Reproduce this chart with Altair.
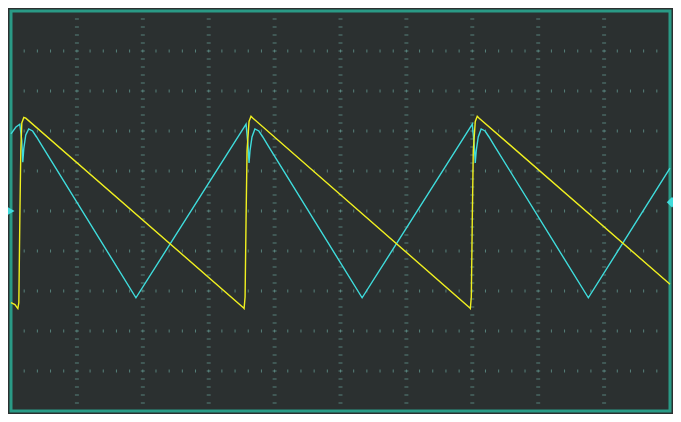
import altair as alt
import pandas as pd
import numpy as np

# Screen units: time and voltage in divisions (10 x 10 graticule, centre = 0)
ch1_t = [0.000, 0.075, 0.134, 0.164, 0.179, 0.194, 0.224, 0.269, 0.328, 0.388, 0.478,
         1.896,
         3.567, 3.597, 3.612, 3.627, 3.657, 3.701, 3.761, 3.821, 3.910,
         5.328,
         7.000, 7.030, 7.045, 7.060, 7.090, 7.134, 7.194, 7.254, 7.343,
         8.761, 10.000]
ch1_v = [1.93, 2.10, 2.17, 1.76, 1.22, 1.56, 1.90, 2.05, 2.00, 1.85, 1.61,
         -2.17,
         2.17, 1.63, 1.20, 1.51, 1.85, 2.05, 2.00, 1.85, 1.61,
         -2.17,
         2.17, 1.63, 1.20, 1.51, 1.85, 2.05, 2.00, 1.85, 1.61,
         -2.17, 1.07]

ch2_t = [0.000, 0.060, 0.090, 0.104, 0.119, 0.134, 0.149, 0.164, 0.194, 0.224,
         3.522, 3.537, 3.552, 3.567, 3.582, 3.612, 3.642, 3.672,
         6.955, 6.970, 6.985, 7.000, 7.015, 7.045, 7.075, 7.104,
         10.000]
ch2_v = [-2.29, -2.34, -2.41, -2.44, -2.29, -0.20, 1.51, 2.20, 2.34, 2.32,
         -2.41, -2.44, -2.15, -0.20, 1.51, 2.24, 2.37, 2.32,
         -2.41, -2.44, -2.15, -0.20, 1.51, 2.24, 2.37, 2.32,
         -1.83]

# channel markers (ground level arrow on left, trigger level on right)
marker_names = ["ch1_ground", "trigger"]
marker_t = [0.0, 10.0]
marker_v = [0.0, 0.22]

BG = "#2b3030"
FRAME = "#2a9a86"
GRID = "#5e8f88"
CYAN = "#3fdcdc"
YELLOW = "#f0f020"

xs = alt.Scale(domain=[0, 10], nice=False, zero=False)
ys = alt.Scale(domain=[-5, 5], nice=False, zero=False)

ch1 = pd.DataFrame({"t": ch1_t, "v": ch1_v, "i": range(len(ch1_t))})
ch2 = pd.DataFrame({"t": ch2_t, "v": ch2_v, "i": range(len(ch2_t))})

# graticule minor marks
vl = [(xi, round(y, 2)) for xi in range(1, 10) for y in np.arange(-4.8, 4.81, 0.2)]
hl = [(round(x, 2), yi) for yi in range(-4, 5) for x in np.arange(0.2, 9.81, 0.2)]
vdf = pd.DataFrame(vl, columns=["t", "v"])
hdf = pd.DataFrame(hl, columns=["t", "v"])

enc = dict(x=alt.X("t:Q", scale=xs, axis=None), y=alt.Y("v:Q", scale=ys, axis=None))

g1 = alt.Chart(vdf).mark_tick(orient="horizontal", size=4, thickness=1, color=GRID, opacity=0.85).encode(**enc)
g2 = alt.Chart(hdf).mark_tick(orient="vertical", size=3, thickness=1, color=GRID, opacity=0.85).encode(**enc)

l1 = alt.Chart(ch1).mark_line(color=CYAN, strokeWidth=1.4).encode(order="i:Q", **enc)
l2 = alt.Chart(ch2).mark_line(color=YELLOW, strokeWidth=1.4).encode(order="i:Q", **enc)

mdf = pd.DataFrame({"name": marker_names, "t": marker_t, "v": marker_v})
m1 = alt.Chart(mdf[mdf.name == "ch1_ground"]).mark_point(
    shape="triangle-right", filled=True, color=CYAN, size=110, opacity=1, xOffset=-1, clip=False
).encode(**enc)
m2 = alt.Chart(mdf[mdf.name == "trigger"]).mark_point(
    shape="diamond", filled=True, color=CYAN, size=110, opacity=1, xOffset=2, clip=False
).encode(**enc)

chart = alt.layer(g1, g2, l1, l2, m1, m2).properties(
    width=659, height=400,
    background=BG,
    padding={"left": 3, "right": 3, "top": 3, "bottom": 3},
    autosize=alt.AutoSizeParams(type="none"),
).configure_view(stroke=FRAME, strokeWidth=3)

chart.save("out.html", embed_options={"renderer": "svg", "actions": False})
